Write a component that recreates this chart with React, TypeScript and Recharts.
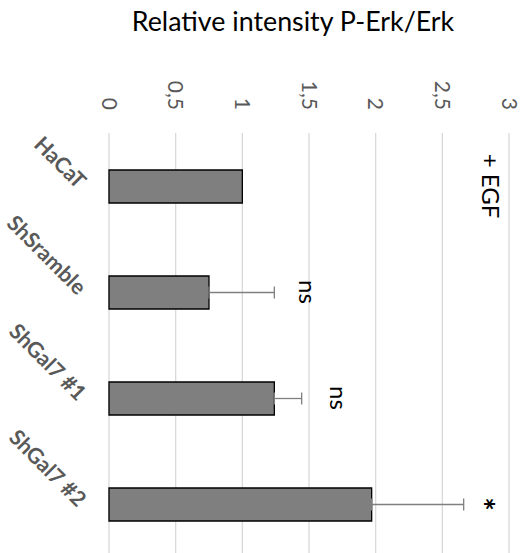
import React from 'react';
import { BarChart, Bar, XAxis, YAxis, CartesianGrid, ErrorBar, ReferenceDot } from 'recharts';

const categories = ['HaCaT', 'ShSramble', 'ShGal7 #1', 'ShGal7 #2'];
const intensity = [1.0, 0.75, 1.24, 1.97];
const errorPlus = [0, 0.49, 0.205, 0.69];
const valueTicks = [0, 0.5, 1, 1.5, 2, 2.5, 3];
const annotationText = ['+ EGF', 'ns', 'ns', '*'];
const annotationAt = [2.86, 1.49, 1.72, 2.79];

const data = categories.map((name, i) => ({
    name,
    value: intensity[i],
    err: errorPlus[i] > 0 ? [0, errorPlus[i]] : undefined,
}));

const FONT = 'Lato, "Open Sans", sans-serif';

function ValueTick(props: any) {
    const { x, y, payload } = props;
    return (
        <text transform={`translate(${x},${y}) rotate(90)`} textAnchor="end" dy="0.35em" fill="#595959" fontSize={21} fontFamily={FONT}>
            {String(payload.value).replace('.', ',')}
        </text>
    );
}

function CategoryTick(props: any) {
    const { x, y, payload } = props;
    return (
        <text transform={`translate(${x - 32},${y + 4}) rotate(45)`} textAnchor="end" fill="#595959" fontSize={21.5} fontWeight="bold" fontFamily={FONT}>
            {payload.value}
        </text>
    );
}

function annotationShape(label: string) {
    const star = label === '*';
    return (p: any) => (
        <text
            x={p.cx}
            y={p.cy}
            transform={`rotate(90 ${p.cx} ${p.cy})`}
            textAnchor="middle"
            dy="0.35em"
            fill="#000"
            fontSize={star ? 32 : 24}
            fontWeight={star ? 'bold' : 'normal'}
            fontFamily={FONT}
        >
            {label}
        </text>
    );
}

export default function App() {
    return (
        <div style={{ position: 'absolute', left: 0, top: 0, width: 525, height: 553, overflow: 'hidden', background: '#fff' }}>
            <div style={{ position: 'absolute', left: 0, top: 6, width: 586, textAlign: 'center', fontFamily: FONT, fontSize: 26.8, lineHeight: '30px', color: '#000' }}>
                Relative intensity P-Erk/Erk
            </div>
            <BarChart width={525} height={560} data={data} layout="vertical" margin={{ top: 0, right: 16, left: 0, bottom: 3 }}>
                <CartesianGrid horizontal={false} stroke="#d9d9d9" strokeWidth={1.3} />
                <XAxis
                    type="number"
                    orientation="top"
                    domain={[0, 3]}
                    ticks={valueTicks}
                    height={133}
                    axisLine={false}
                    tickLine={false}
                    tickSize={0}
                    tickMargin={23}
                    tick={<ValueTick />}
                    interval={0}
                />
                <YAxis
                    type="category"
                    dataKey="name"
                    width={109}
                    axisLine={false}
                    tickLine={false}
                    tickSize={0}
                    tickMargin={0}
                    tick={<CategoryTick />}
                    interval={0}
                />
                <Bar dataKey="value" fill="#7f7f7f" stroke="#000" strokeWidth={1.3} barSize={33} isAnimationActive={false}>
                    <ErrorBar dataKey="err" direction="x" width={6} stroke="#7f7f7f" strokeWidth={1.3} isAnimationActive={false} />
                </Bar>
                {categories.map((c, i) => (
                    <ReferenceDot key={c} x={annotationAt[i]} y={c} r={1} shape={annotationShape(annotationText[i])} />
                ))}
            </BarChart>
        </div>
    );
}
